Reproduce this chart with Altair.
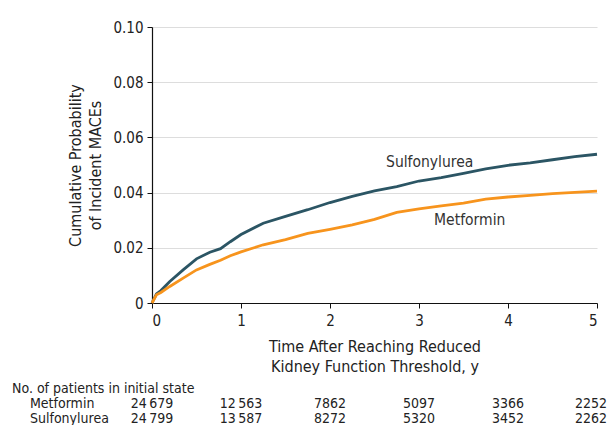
import altair as alt
import pandas as pd

FONT = "DejaVu Sans Condensed, Liberation Sans Narrow, sans-serif"

# Curve readings (years, cumulative probability)
time_y = [0, 0.05, 0.1, 0.2, 0.35, 0.5, 0.65, 0.77, 0.88, 1.0, 1.25, 1.5, 1.75,
          2.0, 2.25, 2.5, 2.75, 3.0, 3.25, 3.5, 3.75, 4.0, 4.25, 4.5, 4.75, 5.0]
sulfonylurea = [0, 0.0033, 0.0045, 0.0078, 0.0120, 0.0160, 0.0184, 0.0197, 0.0222,
                0.0248, 0.0289, 0.0314, 0.0338, 0.0364, 0.0386, 0.0406, 0.0422,
                0.0442, 0.0454, 0.0470, 0.0486, 0.0499, 0.0508, 0.0519, 0.0530, 0.0539]
metformin = [0, 0.0030, 0.0038, 0.0060, 0.0090, 0.0120, 0.0140, 0.0155, 0.0171,
             0.0185, 0.0211, 0.0230, 0.0252, 0.0267, 0.0283, 0.0303, 0.0328,
             0.0341, 0.0352, 0.0362, 0.0376, 0.0384, 0.0390, 0.0396, 0.0401, 0.0405]

colors = ["#2b5564", "#f7941d"]

# Number at risk table
risk_times = [0, 1, 2, 3, 4, 5]
metformin_risk = [24679, 12563, 7862, 5097, 3366, 2252]
sulfonylurea_risk = [24799, 13587, 8272, 5320, 3452, 2262]

# Line label positions
label_names = ["Sulfonylurea", "Metformin"]
label_t = [3.12, 3.57]
label_p = [0.0511, 0.0300]


def fmt(n):
    s = str(n)
    return s[:-3] + "\u2009" + s[-3:] if n >= 10000 else s


x_enc = alt.X(
    "t:Q",
    scale=alt.Scale(domain=[0, 5], nice=False, zero=False),
    axis=alt.Axis(
        values=[0, 1, 2, 3, 4, 5], format="d", grid=False,
        title=["Time After Reaching Reduced", "Kidney Function Threshold, y"],
        titlePadding=10,
    ),
)
y_enc = alt.Y(
    "p:Q",
    scale=alt.Scale(domain=[0, 0.1], nice=False),
    axis=alt.Axis(
        values=[0, 0.02, 0.04, 0.06, 0.08, 0.1], grid=True,
        labelExpr="datum.value == 0 ? '0' : format(datum.value, '.2f')",
        title=["Cumulative Probability", "of Incident MACEs"],
        titlePadding=9,
    ),
)

sulf_df = pd.DataFrame({"t": time_y, "p": sulfonylurea})
metf_df = pd.DataFrame({"t": time_y, "p": metformin})

sulf_line = alt.Chart(sulf_df).mark_line(color=colors[0], strokeWidth=2.8).encode(x=x_enc, y=y_enc)
metf_line = alt.Chart(metf_df).mark_line(color=colors[1], strokeWidth=2.8).encode(x="t:Q", y="p:Q")

labels_df = pd.DataFrame({"name": label_names, "t": label_t, "p": label_p})
labels = alt.Chart(labels_df).mark_text(
    font=FONT, fontSize=15.5, color="#333333", align="center", baseline="middle"
).encode(x="t:Q", y="p:Q", text="name:N")

risk_df = pd.DataFrame({
    "t": risk_times * 2,
    "n": [fmt(v) for v in metformin_risk] + [fmt(v) for v in sulfonylurea_risk],
    "row": ["Metformin"] * 6 + ["Sulfonylurea"] * 6,
})
ROW_Y = {"Metformin": 377, "Sulfonylurea": 392}


def risk_layer(row, last):
    cond = f"datum.row == '{row}' && datum.t {'==' if last else '<'} 5"
    return alt.Chart(risk_df).transform_filter(cond).mark_text(
        font=FONT, fontSize=14, color="#222222", align="center", baseline="middle",
        dx=-6 if last else 0,
    ).encode(x="t:Q", y=alt.value(ROW_Y[row]), text="n:N")


header_df = pd.DataFrame({"txt": ["No. of patients in initial state", "Metformin", "Sulfonylurea"],
                          "xx": [-140, -122, -122], "yy": [362, 377, 392]})
header = alt.Chart(header_df).mark_text(
    font=FONT, fontSize=14, color="#222222", align="left", baseline="middle"
).encode(x=alt.X("xx:Q", scale=None), y=alt.Y("yy:Q", scale=None), text="txt:N")

chart = alt.layer(
    sulf_line, metf_line, labels,
    risk_layer("Metformin", False), risk_layer("Metformin", True),
    risk_layer("Sulfonylurea", False), risk_layer("Sulfonylurea", True),
    header,
).properties(
    width=445, height=276,
    autosize=alt.AutoSizeParams(type="none"),
    padding={"left": 144, "top": 19, "right": 11, "bottom": 122},
).configure_view(stroke=None).configure_axis(
    labelFont=FONT, titleFont=FONT, labelFontSize=15, titleFontSize=16,
    labelColor="#222222", titleColor="#222222", titleFontWeight="normal",
    domainColor="#111111", tickColor="#111111", tickSize=5, domainWidth=1.2,
    gridColor="#dddddd", gridWidth=1.2,
).configure_axisY(labelPadding=4, titleLineHeight=20).configure_axisX(
    labelPadding=5, titleLineHeight=20)

chart.save("out.html", embed_options={"renderer": "svg", "actions": False})
